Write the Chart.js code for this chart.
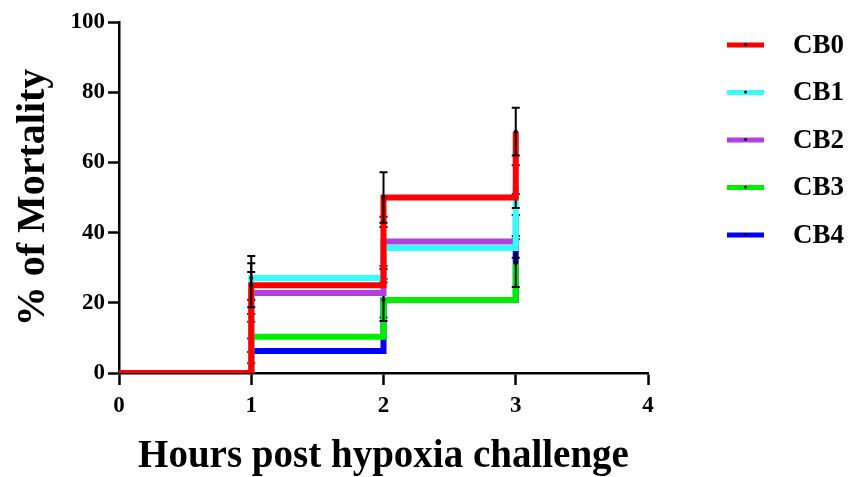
<!DOCTYPE html>
<html>
<head>
<meta charset="utf-8">
<script src="https://cdn.jsdelivr.net/npm/chart.js@4.4.0/dist/chart.umd.min.js"></script>
<style>
  html, body { margin: 0; padding: 0; background: #fff; }
  #wrap { width: 848px; height: 477px; }
</style>
</head>
<body>
<div id="wrap"><canvas id="chart" width="848" height="477"></canvas></div>
<script>
// Time points (hours) and step values
const hours = [0, 1, 2, 3];
const seriesNames = ["CB0", "CB1", "CB2", "CB3", "CB4"];
const cb0 = [0, 25, 50, 68.8];
const cb1 = [0, 27.1, 35.6, 53.1];
const cb2 = [0, 22.8, 37.5, 45];
const cb3 = [0, 10.3, 20.8, 31.3];
const cb4 = [0, 6.3, 20.8, 38.9];
// Error bar half-lengths (SEM-like)
const cb0Err = [0, 6.3, 7.2, 6.8];
const cb1Err = [0, 6.2, 6, 6.1];
const cb2Err = [0, 6, 7, 6];
const cb3Err = [0, 4.3, 6, 6.8];
const cb4Err = [0, 3.5, 5, 6.1];
const xTicks = [0, 1, 2, 3, 4];
const yTicks = [0, 20, 40, 60, 80, 100];

const COLORS = ["#ff0000", "#33ffff", "#b040e0", "#00ee00", "#0000ff"];
const FONT = "'Times New Roman', 'Liberation Serif', serif";

const values = [cb0, cb1, cb2, cb3, cb4];
const errs = [cb0Err, cb1Err, cb2Err, cb3Err, cb4Err];

const datasets = seriesNames.map((name, i) => ({
  label: name,
  data: hours.map((h, j) => ({ x: h, y: values[i][j] })),
  errors: errs[i],
  borderColor: COLORS[i],
  backgroundColor: COLORS[i],
  borderWidth: 6,
  stepped: "before",
  fill: false,
  pointRadius: (ctx) => (ctx.dataIndex === 0 ? 0 : 2),
  pointBackgroundColor: "#000",
  pointBorderWidth: 0,
  clip: { left: 0, top: 8, right: 8, bottom: 0 },
}));

// Draw each series' error bars right after its line, so upper series cover them
const errorBars = {
  id: "errorBars",
  afterDatasetDraw(chart, args) {
    const ds = chart.data.datasets[args.index];
    const xs = chart.scales.x;
    const ys = chart.scales.y;
    const ctx = chart.ctx;
    ctx.save();
    ctx.strokeStyle = "#000";
    ctx.lineWidth = 2;
    ds.errors.forEach((e, j) => {
      if (!e) return;
      const px = xs.getPixelForValue(ds.data[j].x);
      const top = ys.getPixelForValue(ds.data[j].y + e);
      const bot = ys.getPixelForValue(ds.data[j].y - e);
      ctx.beginPath();
      ctx.moveTo(px, top);
      ctx.lineTo(px, bot);
      ctx.moveTo(px - 4, top);
      ctx.lineTo(px + 4, top);
      ctx.moveTo(px - 4, bot);
      ctx.lineTo(px + 4, bot);
      ctx.stroke();
    });
    ctx.restore();
  },
};

// Legend on the right: short thick line with a dot, bold label
const sideLegend = {
  id: "sideLegend",
  afterDraw(chart) {
    const ctx = chart.ctx;
    ctx.save();
    chart.data.datasets.forEach((ds, i) => {
      const y = 45 + i * 47.5;
      ctx.strokeStyle = ds.borderColor;
      ctx.lineWidth = 5;
      ctx.beginPath();
      ctx.moveTo(727, y);
      ctx.lineTo(764, y);
      ctx.stroke();
      ctx.fillStyle = "#000";
      ctx.beginPath();
      ctx.arc(745.5, y - 0.5, 1.6, 0, Math.PI * 2);
      ctx.fill();
      ctx.font = `bold 27px ${FONT}`;
      ctx.textBaseline = "middle";
      ctx.textAlign = "left";
      ctx.fillText(ds.label, 793, y + 1);
    });
    ctx.restore();
  },
};

new Chart(document.getElementById("chart"), {
  type: "line",
  data: { datasets },
  options: {
    responsive: false,
    animation: false,
    devicePixelRatio: 1,
    layout: { padding: { left: 0, right: 200, top: 22, bottom: 0 } },
    plugins: { legend: { display: false }, tooltip: { enabled: false } },
    scales: {
      x: {
        type: "linear",
        min: 0,
        max: 4,
        afterBuildTicks: (s) => { s.ticks = xTicks.map((v) => ({ value: v })); },
        afterFit: (s) => { s.height = 104; },
        grid: { drawOnChartArea: false, drawTicks: true, tickLength: 12, tickWidth: 2.5, color: "#000" },
        border: { display: true, color: "#000", width: 2.5 },
        ticks: { color: "#000", padding: 7, font: { family: FONT, size: 23, weight: "bold" } },
        title: {
          display: true,
          text: "Hours post hypoxia challenge",
          color: "#000",
          padding: { top: 0, bottom: 0 },
          font: { family: FONT, size: 39, weight: "bold", lineHeight: 1.05 },
        },
      },
      y: {
        type: "linear",
        min: 0,
        max: 100,
        afterBuildTicks: (s) => { s.ticks = yTicks.map((v) => ({ value: v })); },
        afterFit: (s) => { s.width = 119; },
        grid: { drawOnChartArea: false, drawTicks: true, tickLength: 11, tickWidth: 2.5, color: "#000" },
        border: { display: true, color: "#000", width: 2.5 },
        ticks: { color: "#000", padding: 3, font: { family: FONT, size: 23, weight: "bold" } },
        title: {
          display: true,
          text: "% of Mortality",
          color: "#000",
          padding: { top: 10, bottom: 0 },
          font: { family: FONT, size: 40, weight: "bold", lineHeight: 1.2 },
        },
      },
    },
  },
  plugins: [errorBars, sideLegend],
});
</script>
</body>
</html>
